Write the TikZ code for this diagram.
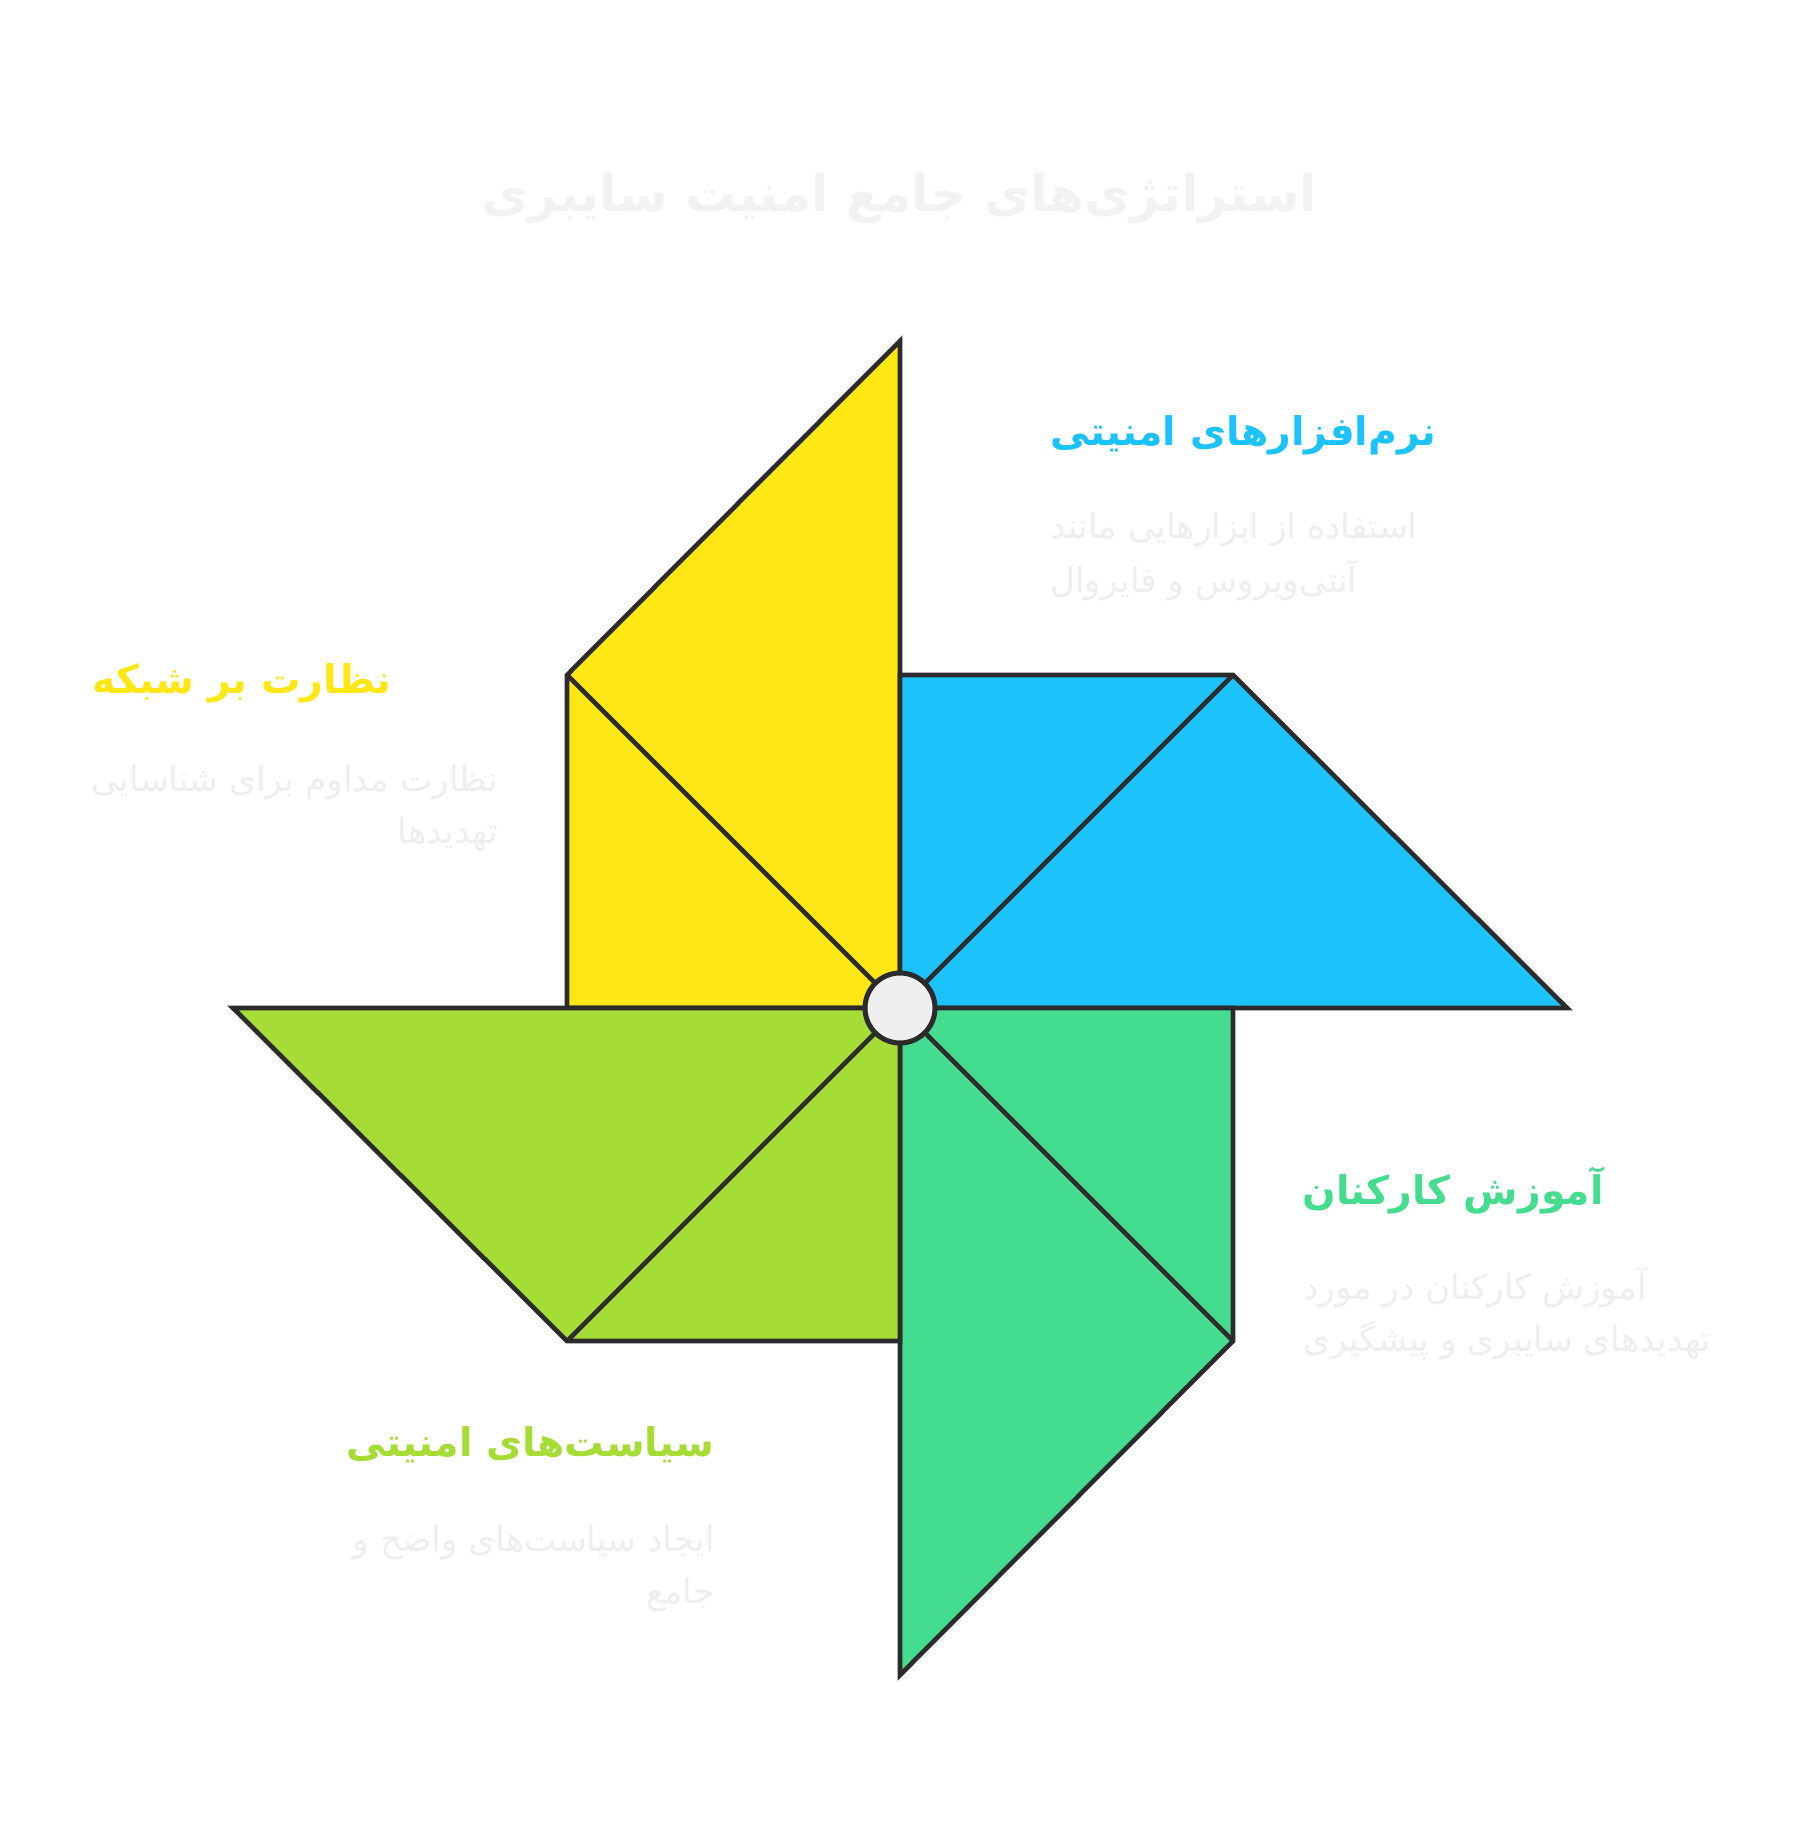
\documentclass[tikz,border=0pt]{standalone}
\usepackage{fontspec}
\newfontfamily\arabicfont[Script=Arabic]{DejaVu Sans}
\TeXXeTstate=1
\definecolor{cyel}{HTML}{FFE713}
\definecolor{cblu}{HTML}{1CC3FB}
\definecolor{cgrn}{HTML}{44DD8F}
\definecolor{clim}{HTML}{A6DC36}
\definecolor{cline}{HTML}{2B2B2B}
\definecolor{chub}{HTML}{EFEFF0}
\definecolor{ctitle}{HTML}{F2F2F2}
\definecolor{cdesc}{HTML}{EEEEEE}
\tikzset{
  blade/.style={draw=cline, line width=2.3pt, line join=miter},
  titletext/.style={inner sep=0pt, text=ctitle, font=\arabicfont\bfseries\fontsize{25.2}{30}\selectfont},
  lbl/.style={inner sep=0pt, font=\arabicfont\bfseries\fontsize{19.7}{24}\selectfont},
  desc/.style={inner sep=0pt, text=cdesc, font=\arabicfont\fontsize{17.2}{21}\selectfont},
}
\begin{document}
\begin{tikzpicture}[x=0.5pt,y=-0.5pt]
\useasboundingbox (0,0) rectangle (1800,1839);
\fill[white] (0,0) rectangle (1800,1839);
% key points
\coordinate (C) at (900,1008);
\coordinate (ytip) at (900,341);
\coordinate (ysq) at (567,675);
\coordinate (ybl) at (567,1008);
\coordinate (btop) at (900,675);
\coordinate (bsq) at (1233,675);
\coordinate (btip) at (1567,1008);
\coordinate (gsq) at (1233,1341);
\coordinate (gtr) at (1233,1008);
\coordinate (gtip) at (900,1675);
\coordinate (lsq) at (567,1341);
\coordinate (lbr) at (900,1341);
\coordinate (ltip) at (233,1008);
% blades
\filldraw[blade, fill=cyel] (ysq) -- (ytip) -- (C) -- (ybl) -- cycle;
\draw[blade] (ysq) -- (C);
\filldraw[blade, fill=cblu] (btop) -- (bsq) -- (btip) -- (C) -- cycle;
\draw[blade] (bsq) -- (C);
\filldraw[blade, fill=cgrn] (gtr) -- (gsq) -- (gtip) -- (C) -- cycle;
\draw[blade] (gsq) -- (C);
\filldraw[blade, fill=clim] (ltip) -- (C) -- (lbr) -- (lsq) -- cycle;
\draw[blade] (lsq) -- (C);
\filldraw[draw=cline, line width=2.5pt, fill=chub] (C) circle[radius=17.5pt];
% title
\node[titletext] (title) at (900,199) {\beginR استراتژی‌های جامع امنیت سایبری\endR};
% blue
\node[lbl, text=cblu, anchor=west] (t1) at (1050,435) {\beginR نرم‌افزارهای امنیتی\endR};
\node[desc, anchor=west] (d1a) at (1050,530) {\beginR استفاده از ابزارهایی مانند\endR};
\node[desc, anchor=west] (d1b) at (1050,581) {\beginR آنتی‌ویروس و فایروال\endR};
% yellow
\node[lbl, text=cyel, anchor=east] (t2) at (392,683) {\beginR نظارت بر شبکه\endR};
\node[desc, anchor=east] (d2a) at (498,783) {\beginR نظارت مداوم برای شناسایی\endR};
\node[desc, anchor=east] (d2b) at (498,835) {\beginR تهدیدها\endR};
% green
\node[lbl, text=cgrn, anchor=west] (t3) at (1302,1190) {\beginR آموزش کارکنان\endR};
\node[desc, anchor=west] (d3a) at (1303,1288) {\beginR آموزش کارکنان در مورد\endR};
\node[desc, anchor=west] (d3b) at (1303,1340) {\beginR تهدیدهای سایبری و پیشگیری\endR};
% lime
\node[lbl, text=clim, anchor=east] (t4) at (715,1445) {\beginR سیاست‌های امنیتی\endR};
\node[desc, anchor=east] (d4a) at (715,1543) {\beginR ایجاد سیاست‌های واضح و\endR};
\node[desc, anchor=east] (d4b) at (715,1595) {\beginR جامع\endR};
\end{tikzpicture}
\end{document}
